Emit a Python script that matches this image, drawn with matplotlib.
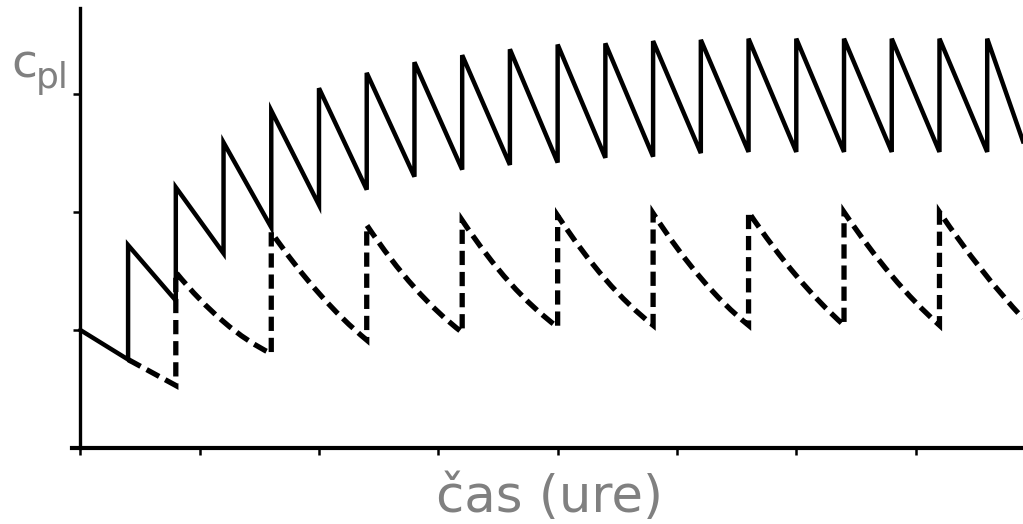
import numpy as np
from matplotlib import pyplot as plt
from matplotlib.path import Path
from matplotlib.patches import PathPatch

W, H, DPI = 1023, 524, 100

# dosing every 4 h (solid) and every 8 h (dashed); conc. in arbitrary units
start_c = 1.0
solid_t = [4, 8, 12, 16, 20, 24, 28, 32, 36, 40, 44, 48, 52, 56, 60, 64, 68, 72, 76]
solid_trough = [0.75, 1.25, 1.65, 1.87, 2.06, 2.19, 2.30, 2.36, 2.40, 2.42,
                2.46, 2.47, 2.50, 2.51, 2.51, 2.51, 2.51, 2.51, 2.51]
solid_peak = [1.72, 2.21, 2.59, 2.86, 3.05, 3.18, 3.27, 3.33, 3.38, 3.42,
              3.43, 3.45, 3.46, 3.47, 3.47, 3.47, 3.47, 3.47, 3.47]
solid_end = (79, 2.60)

dashed_t = [8, 16, 24, 32, 40, 48, 56, 64, 72]
dashed_trough = [0.53, 0.80, 0.915, 0.98, 1.025, 1.04, 1.04, 1.04, 1.04]
dashed_peak = [1.49, 1.83, 1.89, 1.93, 1.97, 1.99, 2.00, 2.00, 2.00]
dashed_mid = [1.07, 1.31, 1.36, 1.40, 1.43, 1.44, 1.46, 1.46, 1.45]
dashed_end = (79, 1.10)

x_ticks = [0, 10, 20, 30, 40, 50, 60, 70]
y_ticks = [1, 2, 3]


def sawtooth(t0, c0, times, troughs, peaks, end):
    xs, ys = [t0], [c0]
    for i, t in enumerate(times):
        xs += [t, t]
        ys += [troughs[i], peaks[i]]
    xs.append(end[0])
    ys.append(end[1])
    return xs, ys


def curved_sawtooth(t0, c0, times, troughs, peaks, mids, end):
    # each decay is a quadratic bezier through peak, mid (t+4) and next trough
    verts = [(t0, c0)]
    codes = [Path.MOVETO]
    for i, t in enumerate(times):
        verts += [(t, troughs[i]), (t, peaks[i])]
        codes += [Path.LINETO, Path.LINETO]
        if i + 1 < len(times):
            t1, c1 = times[i + 1], troughs[i + 1]
        else:
            t1, c1 = end
        tm = t + 4
        # parameter of the mid point along the segment
        s = (tm - t) / (t1 - t)
        cx = (tm - (1 - s) ** 2 * t - s ** 2 * t1) / (2 * s * (1 - s))
        cy = (mids[i] - (1 - s) ** 2 * peaks[i] - s ** 2 * c1) / (2 * s * (1 - s))
        verts += [(cx, cy), (t1, c1)]
        codes += [Path.CURVE3, Path.CURVE3]
    return Path(verts, codes)


fig = plt.figure(figsize=(W / DPI, H / DPI), dpi=DPI)
ax = fig.add_axes([72 / W, (H - 448) / H, (W - 72) / W, (448 - 8) / H])
ax.set_xlim(-0.7, 79)
ax.set_ylim(0, 3.73)

sx, sy = sawtooth(0, start_c, solid_t, solid_trough, solid_peak, solid_end)
ax.plot(sx, sy, color='black', linewidth=3.2, solid_joinstyle='miter', zorder=3)

# 8 h regimen shares the first 4 h with the solid curve
dpath = curved_sawtooth(solid_t[0], solid_trough[0], dashed_t, dashed_trough,
                        dashed_peak, dashed_mid, dashed_end)
ax.add_patch(PathPatch(dpath, fill=False, edgecolor='black', linewidth=3.8,
                       linestyle=(0, (2.7, 1.3)), capstyle='butt', zorder=2))

for side in ['top', 'right']:
    ax.spines[side].set_visible(False)
ax.spines['left'].set_position(('data', 0))
ax.spines['left'].set_linewidth(2.4)
ax.spines['bottom'].set_linewidth(3.0)
ax.set_xticks(x_ticks)
ax.set_yticks(y_ticks)
ax.set_xticklabels([])
ax.set_yticklabels([])
ax.tick_params(direction='out', length=5, width=1.8, color='black')
ax.patch.set_visible(False)

gray = '#808080'
fig.text(549 / W, 1 - 512 / H, 'čas (ure)', color=gray, fontsize=37,
         ha='center', va='baseline', family='DejaVu Sans')
fig.text(11 / W, 1 - 78 / H, 'c', color=gray, fontsize=34,
         ha='left', va='baseline', family='DejaVu Sans')
fig.text(36 / W, 1 - 88 / H, 'pl', color=gray, fontsize=26,
         ha='left', va='baseline', family='DejaVu Sans')

fig.savefig('out.png', dpi=DPI, facecolor='white')
